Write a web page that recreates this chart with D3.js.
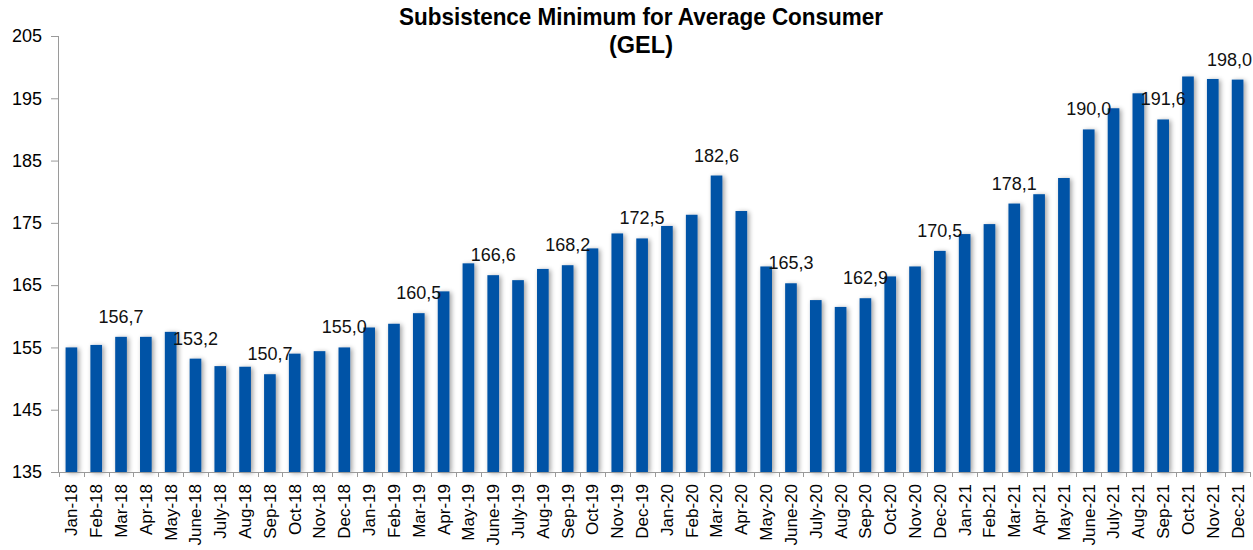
<!DOCTYPE html>
<html>
<head>
<meta charset="utf-8">
<script src="https://cdn.jsdelivr.net/npm/d3@7"></script>
<style>
  html, body { margin: 0; padding: 0; background: #ffffff; }
  svg { display: block; font-family: "Liberation Sans", Arial, sans-serif; }
</style>
</head>
<body>
<svg id="chart" width="1253" height="550"></svg>
<script>
// ---- data ----
const months = [
  "Jan-18","Feb-18","Mar-18","Apr-18","May-18","June-18","July-18","Aug-18","Sep-18","Oct-18","Nov-18","Dec-18",
  "Jan-19","Feb-19","Mar-19","Apr-19","May-19","June-19","July-19","Aug-19","Sep-19","Oct-19","Nov-19","Dec-19",
  "Jan-20","Feb-20","Mar-20","Apr-20","May-20","June-20","July-20","Aug-20","Sep-20","Oct-20","Nov-20","Dec-20",
  "Jan-21","Feb-21","Mar-21","Apr-21","May-21","June-21","July-21","Aug-21","Sep-21","Oct-21","Nov-21","Dec-21"
];
const values = [
  155.0,155.4,156.7,156.7,157.5,153.2,152.0,151.9,150.7,154.0,154.4,155.0,
  158.2,158.8,160.5,164.0,168.5,166.6,165.8,167.6,168.2,170.9,173.3,172.5,
  174.5,176.3,182.6,176.9,168.0,165.3,162.6,161.5,162.9,166.4,168.0,170.5,
  173.2,174.8,178.1,179.6,182.2,190.0,193.4,195.8,191.6,198.5,198.1,198.0
];
const labeledMonths = [
  "Mar-18","June-18","Sep-18","Dec-18","Mar-19","June-19","Sep-19","Dec-19",
  "Mar-20","June-20","Sep-20","Dec-20","Mar-21","June-21","Sep-21","Dec-21"
];
const yTicks = [135,145,155,165,175,185,195,205];
const titleLines = ["Subsistence Minimum for Average Consumer", "(GEL)"];

// ---- layout ----
const W = 1253, H = 550;
const margin = {left: 59, right: 3, top: 36, bottom: 78};
const svg = d3.select("#chart");

const x = d3.scaleBand().domain(months).range([margin.left, W - margin.right]).padding(0);
const y = d3.scaleLinear().domain([135, 205]).range([H - margin.bottom, margin.top]);
const barW = x.bandwidth() * 0.47;
const fmt = v => d3.format(".1f")(v).replace(".", ",");

// shadow filter
const defs = svg.append("defs");
const f = defs.append("filter").attr("id", "shadow")
  .attr("x", "-80%").attr("y", "-10%").attr("width", "260%").attr("height", "120%");
f.append("feGaussianBlur").attr("in", "SourceAlpha").attr("stdDeviation", 2.6).attr("result", "blur");
f.append("feOffset").attr("in", "blur").attr("dx", 1.5).attr("dy", 1).attr("result", "off");
f.append("feComponentTransfer").attr("in", "off").attr("result", "shadowA")
  .append("feFuncA").attr("type", "linear").attr("slope", 0.38);
const merge = f.append("feMerge");
merge.append("feMergeNode").attr("in", "shadowA");
merge.append("feMergeNode").attr("in", "SourceGraphic");

// bars
svg.append("g").selectAll("rect").data(months).join("rect")
  .attr("x", (d) => x(d) + (x.bandwidth() - barW) / 2)
  .attr("y", (d, i) => y(values[i]))
  .attr("width", barW)
  .attr("height", (d, i) => y(135) - y(values[i]))
  .attr("fill", "#0453A6")
  .attr("filter", "url(#shadow)");

// y axis
const yAxis = d3.axisLeft(y).tickValues(yTicks).tickSize(8).tickPadding(9).tickFormat(d3.format("d"));
const gy = svg.append("g").attr("transform", `translate(${margin.left},0)`).call(yAxis);
gy.select(".domain").attr("stroke", "#9a9a9a").attr("d", `M-0.5,${y(205)}V${y(135)}`);
gy.selectAll(".tick line").attr("stroke", "#9a9a9a");
gy.selectAll(".tick text").attr("font-size", 18).attr("fill", "#000")
  .attr("font-family", "'Liberation Sans', Arial, sans-serif");

// x axis
const xAxis = d3.axisBottom(x).tickSize(0).tickPadding(0);
const gx = svg.append("g").attr("transform", `translate(0,${y(135)})`).call(xAxis);
gx.select(".domain").attr("stroke", "#9a9a9a");
gx.selectAll(".tick text")
  .attr("font-size", 17).attr("fill", "#000")
  .attr("font-family", "'Liberation Sans', Arial, sans-serif")
  .attr("text-anchor", "end")
  .attr("transform", "translate(0,12) rotate(-90)")
  .attr("x", 0).attr("y", 0).attr("dy", "0.35em");
// boundary tick marks
const bounds = months.map(m => x(m)).concat([x.range()[1]]);
gx.append("g").selectAll("line").data(bounds).join("line")
  .attr("x1", d => Math.round(d) + 0.5).attr("x2", d => Math.round(d) + 0.5)
  .attr("y1", 0).attr("y2", 5)
  .attr("stroke", "#9a9a9a");

// data labels
const lab = svg.append("g").selectAll("text").data(labeledMonths).join("text")
  .attr("font-size", 18).attr("fill", "#111")
  .attr("text-anchor", "middle")
  .attr("y", d => y(values[months.indexOf(d)]) - 14)
  .text(d => fmt(values[months.indexOf(d)]));
lab.attr("x", function(d) {
  const cx = x(d) + x.bandwidth() / 2;
  const half = this.getComputedTextLength() / 2;
  return Math.min(cx, W - half - 1);
});

// title
const cxTitle = 641;
svg.append("text").attr("x", cxTitle).attr("y", 25)
  .attr("text-anchor", "middle").attr("font-weight", "bold").attr("font-size", 24)
  .attr("textLength", 484).attr("lengthAdjust", "spacingAndGlyphs")
  .text(titleLines[0]);
svg.append("text").attr("x", cxTitle).attr("y", 53)
  .attr("text-anchor", "middle").attr("font-weight", "bold").attr("font-size", 23.5)
  .text(titleLines[1]);
</script>
</body>
</html>
